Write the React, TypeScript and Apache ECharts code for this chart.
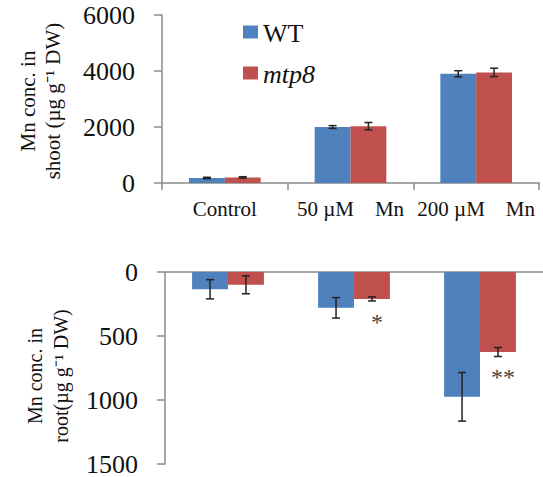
import React, { useEffect, useRef } from "react";
import * as echarts from "echarts";

const categories = ["Control", "50 µM\u00a0\u00a0\u00a0\u00a0Mn", "200 µM\u00a0\u00a0\u00a0\u00a0Mn"];
const seriesNames = ["WT", "mtp8"];
const shootWT = [180, 2000, 3900];
const shootWTErr = [25, 50, 110];
const shootMtp8 = [200, 2030, 3950];
const shootMtp8Err = [25, 130, 150];
const rootWT = [135, 280, 975];
const rootWTErr = [75, 80, 190];
const rootMtp8 = [100, 210, 625];
const rootMtp8Err = [70, 16, 35];
const rootSignif = ["", "*", "**"];
const shootTicks = { min: 0, max: 6000, interval: 2000 };
const rootTicks = { min: 0, max: 1500, interval: 500 };
const shootTitle = "Mn conc. in\nshoot (µg g⁻¹ DW)";
const rootTitle = "Mn conc. in\nroot(µg g⁻¹ DW)";

const FONT = "'Liberation Serif', 'Times New Roman', serif";
const BLUE = "#4F81BD";
const RED = "#C0504D";
const COLORS = [BLUE, RED];
const AXIS = "#8a8a8a";
const GAP = 0.43;

function errorSeries(axisIndex: number, values: number[], errs: number[], slot: number) {
  return {
    type: "custom",
    xAxisIndex: axisIndex,
    yAxisIndex: axisIndex,
    silent: true,
    z: 10,
    data: values.map((v, i) => [i, v, errs[i]]),
    encode: { x: 0, y: 1 },
    renderItem: (params: any, api: any) => {
      const i = api.value(0);
      const v = api.value(1);
      const e = api.value(2);
      const bandW = api.size([1, 0])[0];
      const barW = (bandW * (1 - GAP)) / 2;
      const xOff = (slot === 0 ? -0.5 : 0.5) * barW;
      const hi = api.coord([i, v + e]);
      const lo = api.coord([i, v - e]);
      const x = hi[0] + xOff;
      const cap = 4;
      const st = { stroke: "#222", lineWidth: 1.5 };
      return {
        type: "group",
        children: [
          { type: "line", shape: { x1: x, y1: hi[1], x2: x, y2: lo[1] }, style: st },
          { type: "line", shape: { x1: x - cap, y1: hi[1], x2: x + cap, y2: hi[1] }, style: st },
          { type: "line", shape: { x1: x - cap, y1: lo[1], x2: x + cap, y2: lo[1] }, style: st },
        ],
      };
    },
  };
}

function signifSeries(axisIndex: number, values: number[], errs: number[], marks: string[]) {
  return {
    type: "custom",
    xAxisIndex: axisIndex,
    yAxisIndex: axisIndex,
    silent: true,
    z: 11,
    data: values.map((v, i) => [i, v, errs[i]]),
    encode: { x: 0, y: 1 },
    renderItem: (params: any, api: any) => {
      const i = api.value(0);
      const v = api.value(1);
      const e = api.value(2);
      const bandW = api.size([1, 0])[0];
      const barW = (bandW * (1 - GAP)) / 2;
      const p = api.coord([i, v + e]);
      return {
        type: "text",
        style: {
          text: marks[params.dataIndex],
          x: p[0] + barW / 2 + 5,
          y: p[1] + 9,
          align: "center",
          verticalAlign: "top",
          fontFamily: FONT,
          fontSize: 24,
          fill: "#444",
        },
      };
    },
  };
}

export default function App() {
  const ref = useRef<HTMLDivElement>(null);
  useEffect(() => {
    document.body.style.margin = "0";
    const chart = echarts.init(ref.current!, null, { renderer: "svg" });
    const axisLabel = {
      fontFamily: FONT,
      fontSize: 26,
      color: "#111",
      margin: 27,
      formatter: (v: number) => String(v),
    };
    const legendItems: any[] = [];
    seriesNames.forEach((n, k) => {
      const cy = 32 + k * 41;
      legendItems.push({
        type: "rect",
        shape: { x: 243, y: cy - 6.5, width: 15, height: 13 },
        style: { fill: COLORS[k] },
      });
      legendItems.push({
        type: "text",
        x: 263,
        y: cy + 1,
        style: {
          text: n,
          fontFamily: FONT,
          fontSize: 26,
          fontStyle: k === 1 ? "italic" : "normal",
          fill: "#111",
          verticalAlign: "middle",
          align: "left",
        },
      });
    });
    chart.setOption({
      animation: false,
      backgroundColor: "#fff",
      textStyle: { fontFamily: FONT },
      grid: [
        { left: 162, top: 15, width: 377, height: 168 },
        { left: 165, top: 272, width: 379, height: 192 },
      ],
      xAxis: [
        {
          type: "category",
          gridIndex: 0,
          data: categories,
          axisLine: { lineStyle: { color: AXIS, width: 1.5 } },
          axisTick: { show: true, length: 7, lineStyle: { color: AXIS, width: 1.5 } },
          axisLabel: { fontFamily: FONT, fontSize: 21, color: "#111", margin: 15, interval: 0 },
        },
        {
          type: "category",
          gridIndex: 1,
          data: categories,
          position: "top",
          axisLine: { lineStyle: { color: AXIS, width: 1.5 } },
          axisTick: { show: false },
          axisLabel: { show: false },
        },
      ],
      yAxis: [
        {
          type: "value",
          gridIndex: 0,
          ...shootTicks,
          splitLine: { show: false },
          axisLine: { show: true, lineStyle: { color: AXIS, width: 1.5 } },
          axisTick: { show: true, length: 8, lineStyle: { color: AXIS, width: 1.5 } },
          axisLabel,
        },
        {
          type: "value",
          gridIndex: 1,
          inverse: true,
          ...rootTicks,
          splitLine: { show: false },
          axisLine: { show: true, lineStyle: { color: AXIS, width: 1.5 } },
          axisTick: { show: true, length: 8, lineStyle: { color: AXIS, width: 1.5 } },
          axisLabel,
        },
      ],
      graphic: [
        ...legendItems,
        {
          type: "text",
          x: 40,
          y: 101,
          rotation: Math.PI / 2,
          style: {
            text: shootTitle,
            align: "center",
            verticalAlign: "middle",
            fontFamily: FONT,
            fontSize: 21,
            lineHeight: 25,
            fill: "#111",
          },
        },
        {
          type: "text",
          x: 48,
          y: 376,
          rotation: Math.PI / 2,
          style: {
            text: rootTitle,
            align: "center",
            verticalAlign: "middle",
            fontFamily: FONT,
            fontSize: 20,
            lineHeight: 26,
            fill: "#111",
          },
        },
      ],
      series: [
        { name: seriesNames[0], type: "bar", xAxisIndex: 0, yAxisIndex: 0, data: shootWT, itemStyle: { color: BLUE }, barGap: "0%", barCategoryGap: "43%" },
        { name: seriesNames[1], type: "bar", xAxisIndex: 0, yAxisIndex: 0, data: shootMtp8, itemStyle: { color: RED }, barGap: "0%", barCategoryGap: "43%" },
        { name: seriesNames[0], type: "bar", xAxisIndex: 1, yAxisIndex: 1, data: rootWT, itemStyle: { color: BLUE }, barGap: "0%", barCategoryGap: "43%" },
        { name: seriesNames[1], type: "bar", xAxisIndex: 1, yAxisIndex: 1, data: rootMtp8, itemStyle: { color: RED }, barGap: "0%", barCategoryGap: "43%" },
        errorSeries(0, shootWT, shootWTErr, 0),
        errorSeries(0, shootMtp8, shootMtp8Err, 1),
        errorSeries(1, rootWT, rootWTErr, 0),
        errorSeries(1, rootMtp8, rootMtp8Err, 1),
        signifSeries(1, rootMtp8, rootMtp8Err, rootSignif),
      ],
    });
    return () => chart.dispose();
  }, []);
  return <div ref={ref} style={{ width: 543, height: 477 }} />;
}
